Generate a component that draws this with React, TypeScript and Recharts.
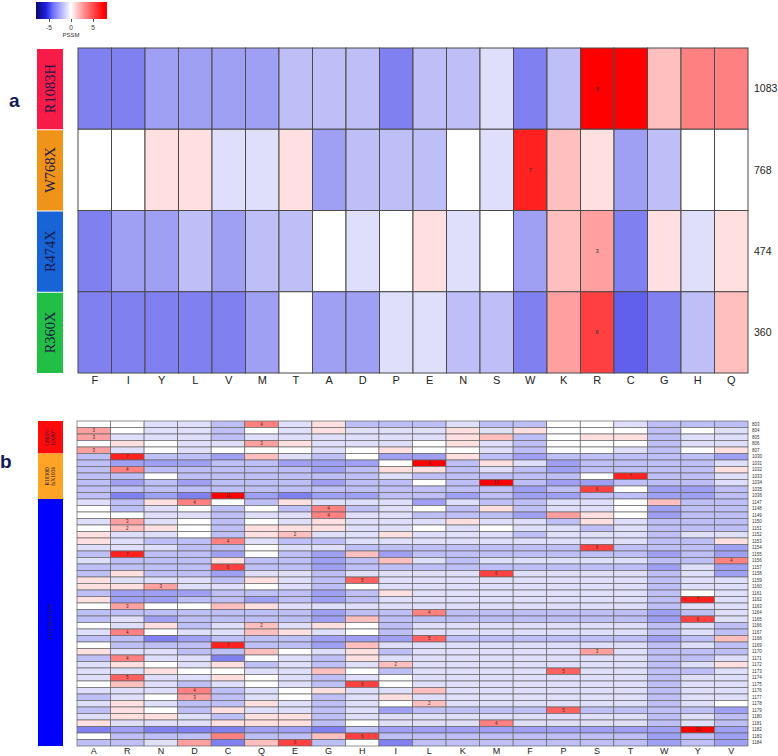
import React from 'react'
import { ScatterChart, Scatter, XAxis, YAxis } from 'recharts'

// ---- panel a ----
const topCols = ['F', 'I', 'Y', 'L', 'V', 'M', 'T', 'A', 'D', 'P', 'E', 'N', 'S', 'W', 'K', 'R', 'C', 'G', 'H', 'Q']
const topRows = ['1083', '768', '474', '360']
const topMutations = ['R1083H', 'W768X', 'R474X', 'R360X']
const topMutationColors = ['#f71b47', '#f09419', '#1864d6', '#21bf45']
const pssm1083 = [-4, -4, -3, -3, -3, -3, -2, -2, -2, -4, -2, -2, -1, -4, -2, 8, 8, 2, 4, 4]
const pssm768 = [0, 0, 1, 1, -1, -1, 1, -3, -2, -2, -2, 0, -1, 7, 2, 1, -3, -2, 0, 0]
const pssm474 = [-4, -3, -3, -2, -3, -2, -2, 0, -1, 0, 1, -1, 0, -3, 2, 3, -4, 1, -1, 1]
const pssm360 = [-4, -4, -4, -4, -4, -3, 0, -3, -3, -1, -1, -2, -2, -4, 3, 6, -5, -4, -2, 2]
const topMarked = [['1083', 'R'], ['768', 'W'], ['474', 'R'], ['360', 'R']]

// ---- panel b ----
const bottomCols = ['A', 'R', 'N', 'D', 'C', 'Q', 'E', 'G', 'H', 'I', 'L', 'K', 'M', 'F', 'P', 'S', 'T', 'W', 'Y', 'V']
const bottomRows = [
  '803', '804', '805', '806', '807',
  '1030', '1031', '1032', '1033', '1034', '1035', '1036',
  '1147', '1148', '1149', '1150', '1151', '1152', '1153', '1154', '1155', '1156', '1157', '1158', '1159', '1160',
  '1161', '1162', '1163', '1164', '1165', '1166', '1167', '1168', '1169', '1170', '1171', '1172', '1173', '1174',
  '1175', '1176', '1177', '1178', '1179', '1180', '1181', '1182', '1183', '1184'
]
const rows803 = [
  [0, 0, -1, -1, -2, 4, -1, 1, -2, -2, -2, -1, -2, -2, 0, 0, -1, -2, -2, -2],
  [3, 0, -1, -1, -2, 0, -1, 1, -1, -1, -1, 1, -1, 1, 0, 0, 0, -2, 0, -1],
  [3, -1, -1, -1, -2, -1, -1, -1, -1, -1, -1, 1, 2, -2, 0, 1, 1, -2, -1, -1],
  [0, 1, 0, -1, -1, 3, 1, -1, -1, -1, 0, 1, -1, -2, 0, 0, 0, -2, -1, -1],
  [3, -1, 0, -1, 0, 0, 0, -1, 0, 1, 0, 0, -1, -2, 0, 0, -1, -2, 0, 1]
]
const rows1030 = [
  [-2, 7, -2, -2, -3, 2, -1, -2, 0, -3, -3, 1, -2, -3, -2, -2, -2, -2, -2, -3],
  [-2, -3, -3, -3, -2, -2, -3, -3, -3, 0, 8, -2, 1, -1, -3, -2, -2, -2, -2, -1],
  [-2, 4, -2, -2, -2, -2, -2, -3, -2, 1, 1, -2, -1, -2, -3, -2, -2, -2, -2, 1],
  [-2, -2, 0, -2, -2, -2, -2, -2, -2, -1, -2, -2, -2, -2, -2, 0, 7, -2, -2, -1],
  [-2, -3, -2, -3, -2, -2, -2, -3, -2, -2, 0, -2, 10, -2, -3, -3, -2, -2, -2, -1],
  [-2, -2, -2, -2, -2, -2, -2, -2, -2, -2, -2, -2, -2, -3, -2, 6, 0, -3, -3, -2],
  [-2, -4, -3, -4, 11, -3, -4, -3, -3, -2, -2, -3, -2, -3, -3, -2, -2, -3, -3, -2]
]
const rows1147 = [
  [-1, -2, 1, 4, 0, -2, 1, -1, -1, -1, -3, -1, -2, -2, -1, -1, 0, 2, -2, -2],
  [0, -2, -1, 0, -2, 0, -2, 4, -2, -1, 0, -2, 1, -2, -1, -1, 0, -3, -2, -2],
  [0, 0, -1, -1, -2, -1, -1, 4, -1, -1, -2, -2, -2, -3, 3, 1, 0, -3, -2, -2],
  [-1, 3, -1, 0, -2, 0, -1, 1, -1, -1, -1, 1, -1, -1, -2, 1, -1, -2, -2, -2],
  [0, 2, 1, 0, -2, 1, 1, 1, -1, -1, 0, -1, 0, -1, -1, -2, -1, -2, -2, -2],
  [1, -1, -1, 0, -2, 1, 2, -1, -1, 1, -1, -1, -1, -2, -1, -1, -1, -2, -1, -1],
  [1, -1, -2, -2, 4, -1, -2, -2, -1, -1, -1, -1, -1, -1, -1, -1, -1, -2, -2, 1],
  [-1, -1, -1, -2, -2, 0, -1, -1, -2, -2, -2, -2, -2, -2, -2, 6, -2, -2, -2, -3],
  [-2, 7, -2, -2, -3, 0, -2, -3, 2, -3, -2, -2, -2, -2, -2, -2, -2, -3, -2, -3],
  [-1, -2, -2, -2, 1, -2, -2, -3, -2, 2, -1, -2, -1, -1, -1, -1, -1, -2, -2, 4],
  [-2, -2, -2, -2, 6, -2, -2, -3, -2, -2, -2, -2, -2, -2, -2, -2, -2, -3, -1, -3],
  [-2, 1, -2, -2, -3, -1, -1, -2, -1, -1, -1, -1, 6, -1, -1, -1, -1, -2, -1, -3],
  [1, -1, -1, -1, -2, 1, -1, -2, 5, -1, -1, -1, -1, -1, -1, -1, -1, -2, -1, -1],
  [1, 1, 3, -1, -1, 0, -1, -2, 0, -1, -1, -1, -1, -1, -1, -1, -1, -2, -1, -1],
  [-2, -3, -3, -3, -2, -2, -2, -3, -2, 1, -1, -1, -1, -1, -1, -1, -1, -2, 0, -1],
  [1, -3, -3, -2, -2, -3, -2, -3, -2, -1, -1, -1, -1, -1, -1, -1, -1, -2, 7, -1],
  [0, 3, 0, 0, 2, 1, -1, -1, -1, -1, -1, -1, -1, -1, -1, -1, -1, -2, -1, -1],
  [-2, -2, -2, -2, -2, -2, -2, -3, -2, -2, 4, -2, -2, -2, -2, -2, -2, -3, -2, -1],
  [-2, -1, -3, -2, -2, -2, -2, -3, 2, -2, -2, -2, -2, -2, -2, -2, -2, -3, 6, -1],
  [0, -1, 1, -2, -1, 2, -1, 1, 0, -2, -1, -1, -1, -1, -1, -1, -1, -2, -1, -2],
  [-1, 4, 0, -1, -1, 2, 1, -1, 0, -2, -1, -1, -1, -1, -1, -1, -1, -2, -1, -2],
  [-2, -2, -4, -3, -2, -2, -2, -3, -3, -3, 5, -2, -2, -2, -2, -2, -2, -3, -2, 2],
  [0, -2, -2, -2, 7, -2, -2, -3, 2, -1, -1, -1, -1, -1, -1, -1, -1, -2, -1, -2],
  [1, -1, -1, -2, -2, 2, 0, -1, 1, -2, -1, -1, -1, -1, -1, 3, -1, -2, -2, -2],
  [-2, 4, -1, -1, -4, 0, -1, -2, 1, -1, -1, -1, -1, -1, -1, -1, -1, -2, -2, -1],
  [-1, 1, 0, -1, 1, -2, -1, -2, -1, 2, -1, -1, -1, -1, -1, -1, -1, -2, -1, 1],
  [-1, -1, 1, 0, 0, -1, -1, 2, 0, -2, -1, -1, -1, -1, 5, -1, -1, -2, -2, -1],
  [-1, 5, -1, -1, 1, 0, -1, -2, -1, 0, -1, -1, -1, -1, -1, -1, -1, -2, -1, -1],
  [0, 2, -1, -2, -1, 0, -1, -2, 6, 0, -1, -1, -1, -1, -1, -1, -1, -2, -1, -1],
  [-1, -1, -1, 4, -2, -1, 0, 1, -1, -1, 2, -1, -1, -1, -1, -1, -1, -2, -1, -1],
  [-2, -1, 0, 3, -2, -1, 0, -2, -1, 1, -1, -1, -1, -1, -1, -1, -1, -2, -1, -1],
  [-1, 1, -1, -2, -2, 1, -1, -2, -1, 0, 2, -1, -1, -1, -1, -1, -1, -2, -1, 0],
  [-2, 1, 0, -2, 1, -1, -1, -2, -1, -3, -2, -2, -2, -2, 5, -2, -2, -2, -2, -3],
  [-1, 1, 1, -1, -2, 1, 1, -2, -1, -1, -1, -1, -1, -1, -1, -1, -1, -2, -1, -2],
  [1, -1, -1, -1, 1, 1, 1, -2, 0, -1, -1, -1, 4, -1, -1, -1, -1, -2, -1, -2],
  [-4, -3, -4, -4, -4, -3, -3, -4, -2, -3, -3, -3, -3, -3, -3, -3, -3, -3, 10, -3],
  [0, -2, -2, -2, 4, -2, -2, 2, 6, -2, -2, -2, -2, -2, -2, -2, -2, -3, -2, -3],
  [-2, -2, -1, 3, -4, 2, 6, -2, 0, -4, -2, -2, -2, -2, -2, -2, -2, -3, -2, -3]
]
const bottomMarked = [
  ['803', 'Q'], ['804', 'A'], ['805', 'A'], ['806', 'Q'], ['807', 'A'],
  ['1030', 'R'], ['1031', 'L'], ['1032', 'R'], ['1033', 'T'], ['1034', 'M'], ['1035', 'S'], ['1036', 'C'],
  ['1147', 'D'], ['1148', 'G'], ['1149', 'G'], ['1150', 'R'], ['1151', 'R'], ['1152', 'E'], ['1153', 'C'],
  ['1154', 'S'], ['1155', 'R'], ['1156', 'V'], ['1157', 'C'], ['1158', 'M'], ['1159', 'H'], ['1160', 'N'],
  ['1162', 'Y'], ['1163', 'R'], ['1164', 'L'], ['1165', 'Y'], ['1166', 'Q'], ['1167', 'R'],
  ['1168', 'L'], ['1169', 'C'], ['1170', 'S'], ['1171', 'R'], ['1172', 'I'], ['1173', 'P'], ['1174', 'R'],
  ['1175', 'H'], ['1176', 'D'], ['1177', 'D'], ['1178', 'L'], ['1179', 'P'], ['1181', 'M'], ['1182', 'Y'],
  ['1183', 'H'], ['1184', 'E']
]
const bottomGroups = [
  { first: 0, size: 5, lines: ['G803V-', 'fsX807'], color: '#ff0a0a' },
  { first: 5, size: 7, lines: ['R1030D', 'fsX1036'], color: '#ffa424' },
  { first: 12, size: 38, lines: ['A1147PfsX1184'], color: '#0000ff' }
]

const pssmColor = (v: number) => {
  const t = Math.min(1, Math.abs(v) / 8)
  const c = Math.round(255 * (1 - t))
  if (v >= 0) return `rgb(255,${c},${c})`
  return `rgb(${c},${c},${Math.round(255 - 30 * t)})`
}

const buildCells = (rows: number[][], cols: string[], rowNames: string[], marked: string[][]) =>
  rows.flatMap((vals, r) =>
    vals.map((v, c) => ({
      x: c,
      y: r,
      v,
      mark: marked.some(m => m[0] === rowNames[r] && m[1] === cols[c])
    }))
  )

const topCells = buildCells([pssm1083, pssm768, pssm474, pssm360], topCols, topRows, topMarked)
const bottomCells = buildCells([...rows803, ...rows1030, ...rows1147], bottomCols, bottomRows, bottomMarked)

const HeatCell = ({ cx, cy, payload, w, h, stroke, strokeWidth, fontSize }: any) => (
  <g>
    <rect x={cx - w / 2} y={cy - h / 2} width={w} height={h} fill={pssmColor(payload.v)} stroke={stroke} strokeWidth={strokeWidth} />
    {payload.mark && (
      <text x={cx} y={cy} dy="0.35em" textAnchor="middle" fontSize={fontSize} fill="#333" fontFamily="Liberation Sans">
        {payload.v}
      </text>
    )}
  </g>
)

const TOP_W = 670 / 20
const TOP_H = 325 / 4
const BOT_W = 671 / 20
const BOT_H = 325 / 50

export default function App() {
  return (
    <div style={{ position: 'absolute', left: 0, top: 0, width: 778, height: 756, background: '#fff', fontFamily: 'Liberation Sans' }}>
      {/* colour key */}
      <div style={{ position: 'absolute', left: 36, top: 2, width: 71, height: 17, background: 'linear-gradient(to right, #08086a 0%, #2020e0 14%, #7070ff 24%, #ffffff 49%, #ff8a8a 68%, #ff0000 96%)' }} />
      {[-5, 0, 5].map(t => (
        <div key={t}>
          <div style={{ position: 'absolute', left: 71 + t * 4.4, top: 19, width: 1, height: 3, background: '#555' }} />
          <div style={{ position: 'absolute', left: 71 + t * 4.4 - 10, top: 24, width: 20, textAlign: 'center', fontSize: 6.5, color: '#333' }}>{t}</div>
        </div>
      ))}
      <div style={{ position: 'absolute', left: 61, top: 32, width: 20, textAlign: 'center', fontSize: 6, color: '#333' }}>PSSM</div>

      <div style={{ position: 'absolute', left: 9, top: 90, fontSize: 19, fontWeight: 'bold', color: '#111a55' }}>a</div>
      <div style={{ position: 'absolute', left: 0, top: 451, fontSize: 19, fontWeight: 'bold', color: '#111a55' }}>b</div>

      <div style={{ position: 'absolute', left: 0, top: 0 }}>
        <ScatterChart width={778} height={400} margin={{ top: 48, right: 0, bottom: 0, left: 0 }}>
          <XAxis
            type="number" dataKey="x" domain={[-0.5, 19.5]} ticks={topCols.map((_, i) => i)} interval={0}
            height={27} axisLine={false} tickLine={false}
            tick={(p: any) => (
              <text x={p.x} y={p.y} dy={3} textAnchor="middle" fontSize={11} fill="#222" fontFamily="Liberation Sans">
                {topCols[p.payload.value]}
              </text>
            )}
          />
          <YAxis
            yAxisId="r" orientation="right" type="number" dataKey="y" domain={[-0.5, 3.5]} reversed
            ticks={[0, 1, 2, 3]} interval={0} width={30} axisLine={false} tickLine={false}
            tick={(p: any) => (
              <text x={754} y={p.y} dy="0.35em" fontSize={10.5} fill="#222" fontFamily="Liberation Sans">
                {topRows[p.payload.value]}
              </text>
            )}
          />
          <YAxis
            yAxisId="l" orientation="left" type="number" dataKey="y" domain={[-0.5, 3.5]} reversed
            ticks={[0, 1, 2, 3]} interval={0} width={78} axisLine={false} tickLine={false}
            tick={(p: any) => (
              <g>
                <rect x={37} y={p.y - TOP_H / 2 + 1} width={26} height={TOP_H - 1} fill={topMutationColors[p.payload.value]} />
                <text
                  x={50} y={p.y} dy="0.35em" textAnchor="middle" fontSize={14.5} fill="#1a1a4a"
                  fontFamily="Liberation Serif" transform={`rotate(-90, 50, ${p.y})`}
                >
                  {topMutations[p.payload.value]}
                </text>
              </g>
            )}
          />
          <Scatter
            yAxisId="r" data={topCells} isAnimationActive={false}
            shape={(p: any) => <HeatCell {...p} w={TOP_W} h={TOP_H} stroke="#4a4a4a" strokeWidth={1} fontSize={6} />}
          />
          <Scatter yAxisId="l" data={topCells} isAnimationActive={false} shape={() => <g />} />
        </ScatterChart>
      </div>

      <div style={{ position: 'absolute', left: 0, top: 400 }}>
        <ScatterChart width={778} height={356} margin={{ top: 21, right: 0, bottom: 0, left: 0 }}>
          <XAxis
            type="number" dataKey="x" domain={[-0.5, 19.5]} ticks={bottomCols.map((_, i) => i)} interval={0}
            height={10} axisLine={false} tickLine={false}
            tick={(p: any) => (
              <text x={p.x} y={p.y} dy={0} textAnchor="middle" fontSize={9} fill="#222" fontFamily="Liberation Sans">
                {bottomCols[p.payload.value]}
              </text>
            )}
          />
          <YAxis
            yAxisId="r" orientation="right" type="number" dataKey="y" domain={[-0.5, 49.5]} reversed
            ticks={bottomRows.map((_, i) => i)} interval={0} width={30} axisLine={false} tickLine={false}
            tick={(p: any) => (
              <text x={752} y={p.y} dy="0.35em" fontSize={4.5} fill="#333" fontFamily="Liberation Sans">
                {bottomRows[p.payload.value]}
              </text>
            )}
          />
          <YAxis
            yAxisId="l" orientation="left" type="number" dataKey="y" domain={[-0.5, 49.5]} reversed
            ticks={bottomGroups.map(g => g.first + (g.size - 1) / 2)} interval={0} width={77}
            axisLine={false} tickLine={false}
            tick={(p: any) => {
              const g = bottomGroups.find(b => Math.abs(b.first + (b.size - 1) / 2 - p.payload.value) < 0.01)
              if (!g) return <g />
              return (
                <g>
                  <rect x={38} y={p.y - (g.size * BOT_H) / 2} width={25} height={g.size * BOT_H} fill={g.color} />
                  {g.lines.map((ln, i) => (
                    <text
                      key={i} x={50} y={p.y} dy={(i - (g.lines.length - 1) / 2) * 6 + 2} textAnchor="middle"
                      fontSize={5.5} fill="#2a1a3a" fontFamily="Liberation Serif" transform={`rotate(-90, 50, ${p.y})`}
                    >
                      {ln}
                    </text>
                  ))}
                </g>
              )
            }}
          />
          <Scatter
            yAxisId="r" data={bottomCells} isAnimationActive={false}
            shape={(p: any) => <HeatCell {...p} w={BOT_W} h={BOT_H} stroke="#666" strokeWidth={0.7} fontSize={4.5} />}
          />
          <Scatter yAxisId="l" data={bottomCells} isAnimationActive={false} shape={() => <g />} />
        </ScatterChart>
      </div>
    </div>
  )
}
